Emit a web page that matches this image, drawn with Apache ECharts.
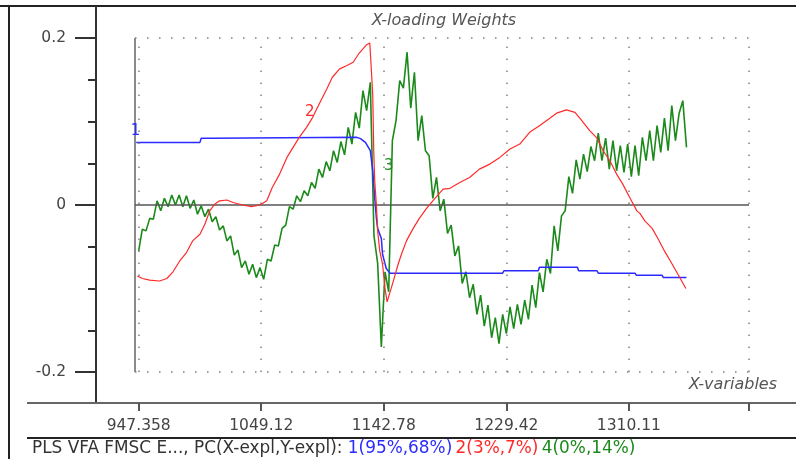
<!DOCTYPE html>
<html>
<head>
<meta charset="utf-8">
<script src="https://cdn.jsdelivr.net/npm/echarts@6/dist/echarts.min.js"></script>
<style>
  html, body { margin: 0; padding: 0; background: #ffffff; }
  #chart { width: 796px; height: 459px; }
</style>
</head>
<body>
<div id="chart"></div>
<script>
// X-variable index positions that carry a wavenumber label
const tickIndex = [0, 100, 200, 300, 400];
const tickLabels = ['947.358', '1049.12', '1142.78', '1229.42', '1310.11'];
const axisStart = -3;
const axisEnd = 498;

// PC1 loading weights: [variable index, weight]
const pc1Weights = [
  [-2, 0.075], [50, 0.075], [51, 0.080], [60, 0.080], [61, 0.081], [178, 0.081],
  [181, 0.0795], [185, 0.075], [189, 0.065], [191, 0.041], [192.5, 0.010],
  [194, -0.016], [195, -0.028], [198, -0.040], [199, -0.059], [202, -0.076],
  [205, -0.0816], [297, -0.0816], [298, -0.0787], [326, -0.0787], [327, -0.0747],
  [358, -0.0747], [359, -0.0787], [374, -0.0787], [375, -0.0816], [405, -0.0816],
  [406, -0.084], [427, -0.084], [428, -0.0867], [447, -0.0867]
];

// PC2 loading weights: [variable index, weight]
const pc2Weights = [
  [-1, -0.085], [3, -0.088], [9, -0.090], [17, -0.091], [23, -0.088], [28, -0.080],
  [33.5, -0.067], [39, -0.057], [44, -0.043], [50, -0.035], [54, -0.023], [58, -0.007],
  [62, 0.001], [66, 0.005], [72, 0.006], [77, 0.003], [85, 0.000], [92, -0.002],
  [99, 0.000], [104.5, 0.005], [109, 0.021], [115, 0.037], [121, 0.057], [126, 0.069],
  [131, 0.081], [137, 0.093], [142, 0.105], [148, 0.123], [153.5, 0.139], [158, 0.153],
  [164, 0.163], [170, 0.167], [175, 0.171], [180, 0.182], [186, 0.192], [188.6, 0.194],
  [190, 0.158], [191, 0.131], [191.8, 0.065], [192.6, 0.029], [194, -0.001], [195, -0.031],
  [196.7, -0.055], [199, -0.071], [201, -0.100], [202.7, -0.116], [207.6, -0.092],
  [211.7, -0.071], [214.4, -0.059], [218.5, -0.043], [224, -0.028], [229, -0.016],
  [234.9, -0.004], [240, 0.005], [248.4, 0.019], [254, 0.020], [262, 0.027], [270, 0.033],
  [278, 0.043], [286.5, 0.049], [294.7, 0.057], [303, 0.067], [311, 0.073], [319, 0.087],
  [327, 0.095], [335.5, 0.104], [341, 0.110], [349, 0.114], [356, 0.111], [361.6, 0.101],
  [368, 0.089], [374, 0.080], [379, 0.065], [384.5, 0.053], [390, 0.037], [395, 0.025],
  [401, 0.008], [406.5, -0.007], [409, -0.010], [413, -0.019], [419, -0.028], [424, -0.041],
  [429, -0.055], [435, -0.070], [440, -0.083], [446.5, -0.100]
];

// PC4 loading weights, one value every 3 variables starting at index 0
const pc4Start = 0;
const pc4Step = 3;
const pc4Weights = [
  -0.055, -0.029, -0.031, -0.016, -0.017, 0.005, -0.007, 0.008, -0.002, 0.012,
  0.000, 0.012, -0.002, 0.011, -0.004, 0.006, -0.011, -0.001, -0.014, -0.005,
  -0.020, -0.014, -0.030, -0.025, -0.043, -0.037, -0.060, -0.054, -0.075, -0.067,
  -0.083, -0.071, -0.087, -0.075, -0.089, -0.065, -0.067, -0.048, -0.049, -0.028,
  -0.024, -0.002, -0.005, 0.011, 0.004, 0.017, 0.011, 0.027, 0.020, 0.043,
  0.033, 0.052, 0.041, 0.065, 0.051, 0.076, 0.060, 0.093, 0.073, 0.111,
  0.092, 0.137, 0.113, 0.147, -0.037, -0.070, -0.170, -0.080, -0.104, 0.077,
  0.101, 0.149, 0.140, 0.183, 0.116, 0.159, 0.077, 0.107, 0.065, 0.059,
  0.008, 0.033, -0.007, 0.007, -0.034, -0.024, -0.061, -0.049, -0.094, -0.080,
  -0.111, -0.095, -0.131, -0.108, -0.145, -0.120, -0.159, -0.135, -0.166, -0.131,
  -0.154, -0.122, -0.148, -0.119, -0.143, -0.114, -0.137, -0.096, -0.123, -0.081,
  -0.104, -0.065, -0.082, -0.025, -0.055, -0.013, -0.007, 0.034, 0.014, 0.054,
  0.031, 0.061, 0.040, 0.070, 0.053, 0.086, 0.053, 0.080, 0.043, 0.077,
  0.041, 0.071, 0.039, 0.073, 0.034, 0.071, 0.035, 0.081, 0.053, 0.089,
  0.053, 0.095, 0.063, 0.104, 0.065, 0.119, 0.077, 0.110, 0.125, 0.069
];

// Curve tags placed next to each line: [variable index, weight]
const tagPC1 = [-2.5, 0.089];
const tagPC2 = [139.6, 0.111];
const tagPC4 = [204, 0.047];

const FONT = '"DejaVu Sans", Verdana, sans-serif';
const BLUE = '#2b2bff';
const RED = '#ff2a2a';
const GREEN = '#1b8a1b';

const pc4Points = pc4Weights.map((v, i) => [pc4Start + i * pc4Step, v]);

function tag(coord, text, color) {
  return {
    silent: true,
    symbol: 'circle',
    symbolSize: 1,
    itemStyle: { color: 'rgba(0,0,0,0)' },
    label: {
      show: true, position: 'inside', formatter: text,
      color: color, fontSize: 15, fontFamily: FONT
    },
    data: [{ coord: coord }]
  };
}

const dotted = { color: '#808080', width: 1.5, type: [1.5, 10.5] };

const chart = echarts.init(document.getElementById('chart'), null, { renderer: 'canvas' });

chart.setOption({
  animation: false,
  backgroundColor: '#ffffff',
  grid: { left: 135, right: 47, top: 38, bottom: 87, containLabel: false },
  xAxis: {
    type: 'value',
    min: axisStart,
    max: axisEnd,
    position: 'bottom',
    offset: 31,
    axisLine: { show: false, onZero: false },
    axisTick: {
      show: true, length: 8, customValues: tickIndex.concat([axisEnd]),
      lineStyle: { color: '#555', width: 2 }
    },
    axisLabel: {
      show: true, margin: 15, customValues: tickIndex,
      formatter: (v) => tickLabels[tickIndex.indexOf(v)] || '',
      color: '#444', fontSize: 15.5, fontFamily: FONT
    },
    splitLine: { show: false }
  },
  yAxis: {
    type: 'value',
    min: -0.2,
    max: 0.2,
    interval: 0.2,
    position: 'left',
    offset: 39,
    axisLine: { show: false, onZero: false },
    axisTick: { show: true, length: 21, lineStyle: { color: '#333', width: 2 } },
    minorTick: { show: true, splitNumber: 4, length: 8, lineStyle: { color: '#333', width: 2 } },
    axisLabel: {
      margin: 30, color: '#444', fontSize: 15.5, fontFamily: FONT,
      formatter: (v) => (Math.abs(v) < 1e-9 ? '0' : String(+v.toFixed(1)))
    },
    splitLine: { show: false }
  },
  series: [
    {
      name: 'frame',
      type: 'line',
      z: 1,
      data: [],
      markLine: {
        silent: true,
        symbol: 'none',
        label: { show: false },
        lineStyle: dotted,
        data: [
          ...tickIndex.map((x) => ({ xAxis: x })),
          { xAxis: axisEnd },
          { yAxis: 0.2 },
          { yAxis: -0.2 },
          { xAxis: axisStart, lineStyle: { color: '#8a8a8a', width: 2, type: 'solid' } },
          { yAxis: 0, lineStyle: { color: '#555', width: 1.5, type: 'solid' } }
        ]
      }
    },
    {
      name: '4',
      type: 'line',
      z: 3,
      data: pc4Points,
      showSymbol: false,
      lineStyle: { color: GREEN, width: 1.6 },
      markPoint: tag(tagPC4, '3', GREEN)
    },
    {
      name: '1',
      type: 'line',
      z: 4,
      data: pc1Weights,
      showSymbol: false,
      lineStyle: { color: BLUE, width: 1.5 },
      markPoint: tag(tagPC1, '1', BLUE)
    },
    {
      name: '2',
      type: 'line',
      z: 5,
      data: pc2Weights,
      showSymbol: false,
      lineStyle: { color: RED, width: 1.2 },
      markPoint: tag(tagPC2, '2', RED)
    }
  ],
  graphic: [
    // panel frame and axis rules
    { type: 'line', silent: true, shape: { x1: 0, y1: 6, x2: 796, y2: 6 }, style: { stroke: '#222', lineWidth: 2 } },
    { type: 'line', silent: true, shape: { x1: 9, y1: 6, x2: 9, y2: 459 }, style: { stroke: '#222', lineWidth: 2 } },
    { type: 'line', silent: true, shape: { x1: 96, y1: 6, x2: 96, y2: 403 }, style: { stroke: '#333', lineWidth: 2 } },
    { type: 'line', silent: true, shape: { x1: 27, y1: 403, x2: 796, y2: 403 }, style: { stroke: '#666', lineWidth: 2 } },
    { type: 'line', silent: true, shape: { x1: 27, y1: 438, x2: 796, y2: 438 }, style: { stroke: '#222', lineWidth: 2 } },
    {
      type: 'text', silent: true,
      style: {
        text: 'X-loading Weights', x: 444, y: 13, align: 'center', verticalAlign: 'top',
        fill: '#555', font: 'italic 16px ' + FONT
      }
    },
    {
      type: 'text', silent: true,
      style: {
        text: 'X-variables', x: 777, y: 377, align: 'right', verticalAlign: 'top',
        fill: '#555', font: 'italic 16px ' + FONT
      }
    },
    {
      type: 'text', silent: true,
      style: {
        x: 32, y: 449, verticalAlign: 'middle',
        text: '{k|PLS VFA FMSC E..., PC(X-expl,Y-expl): }{b|1(95%,68%)} {r|2(3%,7%)} {g|4(0%,14%)}',
        rich: {
          k: { fill: '#333', fontSize: 16.9, fontFamily: FONT },
          b: { fill: BLUE, fontSize: 16.9, fontFamily: FONT },
          r: { fill: RED, fontSize: 16.9, fontFamily: FONT },
          g: { fill: GREEN, fontSize: 16.9, fontFamily: FONT }
        }
      }
    }
  ]
});
</script>
</body>
</html>
